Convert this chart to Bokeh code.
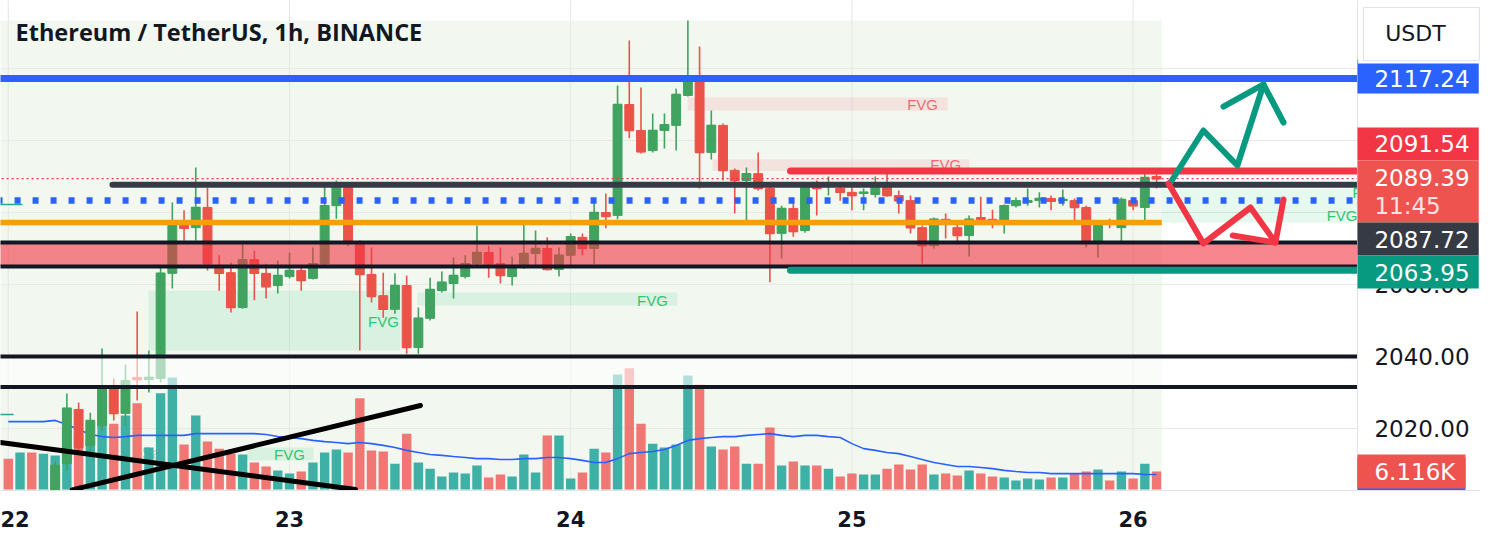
from bokeh.plotting import figure
from bokeh.models import Range1d, FixedTicker
from bokeh.core.properties import value
from bokeh.embed import file_html
from bokeh.resources import INLINE

# ---------------- data ----------------
day_ticks = [0, 24, 48, 72, 96]
day_labels = ["22", "23", "24", "25", "26"]
price_ticks = [2020, 2040, 2060, 2080, 2100, 2120]

opens = [
    1999.0, 1996.0, 2000.0, 1997.0, 2003.0,
    2010.3, 2025.3, 2015.3, 2020.8, 2031.4,
    2024.2, 2034.2, 2033.6, 2033.9, 2063.1,
    2076.4, 2075.8, 2081.4, 2064.7, 2063.3,
    2053.6, 2066.9, 2063.1, 2059.7, 2062.2,
    2063.9, 2061.7, 2065.8, 2081.9, 2087.5,
    2071.7, 2062.8, 2056.9, 2053.1, 2059.7,
    2042.5, 2050.6, 2058.3, 2060.3, 2062.2,
    2065.8, 2068.9, 2065.8, 2062.2, 2064.7,
    2068.6, 2070.0, 2064.2, 2068.1, 2073.1,
    2070.0, 2080.0, 2079.2, 2110.0, 2102.8,
    2097.2, 2102.8, 2104.2, 2112.5, 2116.7,
    2096.7, 2104.2, 2091.7, 2088.9, 2090.8,
    2086.7, 2074.2, 2081.1, 2075.0, 2087.5,
    2087.2, 2086.7, 2085.6, 2085.3, 2085.0,
    2087.5, 2084.7, 2083.3, 2075.8, 2070.8,
    2078.1, 2075.8, 2073.6, 2078.6, 2078.1,
    2076.9, 2081.9, 2082.8, 2083.3, 2083.9,
    2083.3, 2083.3, 2081.4, 2071.7, 2077.2,
    2075.8, 2083.3, 2081.4, 2090.0]
highs = [
    2001.0, 2001.5, 2002.0, 2002.0, 2011.0,
    2029.7, 2027.2, 2024.4, 2042.2, 2033.9,
    2037.8, 2052.5, 2041.7, 2065.3, 2082.8,
    2080.6, 2092.5, 2086.9, 2068.1, 2066.1,
    2071.4, 2069.4, 2065.8, 2066.7, 2068.9,
    2065.3, 2070.3, 2088.1, 2088.9, 2088.3,
    2072.2, 2070.3, 2063.3, 2063.1, 2062.5,
    2053.6, 2061.9, 2063.6, 2067.5, 2068.1,
    2076.4, 2070.8, 2070.3, 2067.8, 2077.8,
    2075.0, 2073.1, 2070.3, 2074.2, 2074.2,
    2082.8, 2085.3, 2115.3, 2127.8, 2114.7,
    2107.5, 2107.5, 2114.4, 2133.3, 2126.1,
    2108.3, 2104.7, 2092.2, 2092.5, 2096.7,
    2087.2, 2081.9, 2083.3, 2088.1, 2088.9,
    2090.0, 2087.5, 2087.5, 2086.7, 2090.0,
    2090.8, 2086.1, 2084.7, 2076.4, 2078.6,
    2079.7, 2077.2, 2079.2, 2084.4, 2080.8,
    2082.2, 2084.2, 2086.7, 2085.6, 2084.7,
    2086.4, 2083.9, 2081.9, 2076.9, 2078.3,
    2084.2, 2084.2, 2090.8, 2090.8]
lows = [
    1994.0, 1994.0, 1995.0, 1995.0, 2001.0,
    2008.3, 2013.9, 2013.3, 2019.4, 2022.2,
    2020.8, 2027.8, 2030.0, 2032.8, 2058.9,
    2072.2, 2072.2, 2063.9, 2058.3, 2052.2,
    2053.3, 2055.6, 2056.1, 2057.5, 2061.7,
    2058.3, 2061.4, 2065.3, 2078.3, 2070.6,
    2041.7, 2055.0, 2050.8, 2051.9, 2040.8,
    2040.8, 2050.0, 2057.8, 2056.1, 2061.7,
    2064.7, 2061.9, 2060.3, 2059.7, 2064.4,
    2064.7, 2063.9, 2062.2, 2065.3, 2068.1,
    2065.6, 2075.6, 2078.1, 2100.6, 2096.4,
    2096.7, 2097.8, 2097.2, 2112.2, 2086.7,
    2094.7, 2088.9, 2079.7, 2077.8, 2086.1,
    2060.6, 2067.2, 2073.3, 2074.4, 2079.2,
    2084.7, 2083.3, 2080.6, 2080.6, 2084.2,
    2084.4, 2079.7, 2074.2, 2065.8, 2070.0,
    2072.8, 2071.4, 2067.8, 2077.8, 2075.6,
    2074.2, 2081.4, 2081.9, 2081.4, 2080.6,
    2081.9, 2077.8, 2070.3, 2067.5, 2075.6,
    2071.7, 2080.6, 2077.8, 2086.7]
closes = [
    1996.0, 2000.0, 1997.0, 2001.0, 2009.7,
    2025.6, 2014.7, 2022.2, 2031.1, 2024.2,
    2033.3, 2033.6, 2034.2, 2063.1, 2076.4,
    2075.6, 2081.4, 2065.8, 2063.1, 2053.6,
    2066.9, 2063.1, 2059.4, 2062.5, 2063.9,
    2061.1, 2065.8, 2081.9, 2087.5, 2072.2,
    2062.8, 2056.7, 2053.1, 2059.7, 2042.5,
    2050.6, 2058.6, 2060.6, 2062.5, 2065.8,
    2068.9, 2065.8, 2062.5, 2064.7, 2068.6,
    2070.0, 2064.2, 2068.1, 2073.3, 2070.0,
    2080.0, 2078.9, 2110.0, 2102.8, 2096.9,
    2102.8, 2104.4, 2112.8, 2116.7, 2096.7,
    2104.2, 2091.7, 2088.9, 2090.8, 2086.7,
    2074.2, 2081.1, 2074.7, 2086.9, 2086.7,
    2088.1, 2085.6, 2084.7, 2085.6, 2087.5,
    2084.7, 2083.3, 2075.8, 2070.8, 2078.1,
    2077.2, 2073.6, 2078.1, 2078.1, 2077.5,
    2081.9, 2083.3, 2083.3, 2083.9, 2083.1,
    2083.6, 2081.4, 2071.7, 2076.4, 2076.9,
    2083.6, 2081.9, 2089.7, 2089.39]
volumes_k = [
    10.5, 12.6, 12.6, 12.2, 11.6, 20.1, 18.4, 16.7, 23.5, 22.4,
    25.2, 29.3, 14.3, 32.7, 38.1, 15.3, 25.2, 16.3, 13.9, 12.2,
    11.9, 9.2, 7.8, 6.5, 5.4, 6.1, 9.2, 12.6, 13.6, 12.6,
    31.0, 13.3, 12.9, 8.8, 19.0, 9.2, 7.1, 4.4, 5.8, 5.4,
    8.2, 4.1, 5.1, 4.4, 11.9, 5.8, 18.4, 18.4, 3.7, 5.8,
    13.9, 12.6, 39.1, 41.2, 22.4, 15.6, 14.3, 15.3, 38.8, 35.7,
    14.6, 13.6, 14.6, 8.8, 8.8, 21.1, 8.2, 9.5, 8.2, 8.2,
    7.1, 4.4, 5.4, 5.1, 5.1, 7.1, 8.5, 6.8, 8.5, 5.1,
    5.4, 4.8, 6.5, 5.4, 4.4, 4.1, 3.1, 3.7, 3.4, 4.1,
    4.1, 5.4, 6.1, 6.8, 3.1, 6.1, 3.7, 8.8, 6.116]
volume_ma_k = [
    23.1, 23.1, 23.1, 23.1, 23.5, 22.1, 20.4, 18.7, 18.0, 17.7,
    18.0, 18.4, 18.4, 18.4, 18.4, 18.4, 19.0, 19.0, 19.0, 19.0,
    19.0, 19.0, 18.7, 18.0, 17.7, 17.3, 16.7, 16.3, 16.0, 15.6,
    16.0, 15.6, 15.0, 14.3, 13.3, 12.6, 11.9, 11.6, 11.2, 10.9,
    10.5, 10.5, 10.2, 10.2, 10.5, 10.5, 10.9, 10.9, 10.5, 9.9,
    9.2, 9.2, 10.5, 12.2, 12.6, 12.9, 13.6, 15.0, 16.7, 17.3,
    17.7, 18.0, 18.0, 18.4, 18.7, 19.0, 18.4, 18.0, 18.4, 18.4,
    18.0, 17.7, 15.6, 13.9, 13.3, 12.6, 12.2, 11.2, 10.2, 9.2,
    8.5, 7.8, 7.8, 7.5, 7.1, 6.5, 6.1, 5.8, 5.8, 5.4,
    5.4, 5.4, 5.4, 5.4, 5.4, 5.4, 5.4, 5.1, 5.1]

# drawn levels (price)
blue_level = 2117.24
red_level = 2091.54
last_price = 2089.39
dark_level = 2087.72
dotted_level = 2083.33
orange_level = 2077.22
band_top, band_bottom = 2071.67, 2065.0
green_level = 2063.95
lower_lines = [2040.0, 2031.5]

# FVG zones: (start hour, end hour, low price, high price)
fvg_bear = [(57.97, 80.16, 2108.33, 2111.94), (60.1, 82.04, 2091.5, 2094.7)]
fvg_bull = [(11.97, 33.47, 2041.67, 2058.33), (34.93, 57.11, 2054.17, 2057.78),
            (20.4, 26.05, 2011.11, 2014.72), (98.45, 116.0, 2077.2, 2086.67)]

# drawings (hour, price)
bull_path_h = [99.19, 102.0, 104.9, 107.13]
bull_path_p = [2088.33, 2102.78, 2093.06, 2115.56]
bull_head_h = [103.71, 107.13, 108.84]
bull_head_p = [2109.44, 2115.56, 2105.0]
bear_path_h = [99.02, 102.0, 106.02, 108.15]
bear_path_p = [2088.06, 2071.39, 2081.39, 2071.67]
bear_head_h = [104.5, 108.15, 108.84]
bear_head_p = [2073.61, 2071.67, 2083.61]
cross_a_h, cross_a_p = [-0.67, 29.63], [2016.11, 2003.06]
cross_b_h, cross_b_p = [5.45, 35.18], [2002.97, 2026.39]

# price-scale tags
tag_texts = ["2117.24", "2091.54", "2089.39", "2087.72", "2063.95"]
tag_colors = ["#2962ff", "#f23645", "#ef5350", "#363a45", "#089981"]
tag_tops = [2122.5, 2103.6, 2094.44, 2077.22, 2068.06]
tag_bottoms = [2113.06, 2094.44, 2077.22, 2068.06, 2058.89]
tag_text_y = [2117.3, 2099.03, 2089.72, 2072.64, 2063.33]
countdown_text = "11:45"
volume_tag_text = "6.116K"
ma_tag_text = "5.124K"

# ---------------- figure ----------------
X0, X1 = -0.666, 125.65          # full canvas width
AXIS_X = 115.15                  # price-scale border
LABEL_X = 116.6
p = figure(frame_width=1480, frame_height=490,
           x_range=Range1d(X0, X1), y_range=Range1d(2002.78, 2138.89),
           output_backend="svg", toolbar_location=None, y_axis_location=None,
           min_border_left=0, min_border_top=0, min_border_right=0, min_border_bottom=48,
           background_fill_color="white", border_fill_color="white", outline_line_color=None)
p.extra_y_ranges = {"vol": Range1d(-0.34, 166.33)}
p.grid.visible = False

NUMF = value("DejaVu Sans")
xa = p.xaxis[0]
xa.ticker = FixedTicker(ticks=day_ticks)
xa.major_label_overrides = {t: l for t, l in zip(day_ticks, day_labels)}
xa.major_label_text_font = "DejaVu Sans"
xa.major_label_text_font_style = "bold"
xa.major_label_text_font_size = "21px"
xa.major_label_text_color = "#131722"
xa.axis_line_color = "#e0e3eb"
xa.major_tick_line_color = None
xa.minor_tick_line_color = None
xa.major_tick_out = 0
xa.major_label_standoff = 20

hours = list(range(len(opens)))
PANEL_END = 98.45

# background panel
p.quad(left=[-1], right=[PANEL_END], bottom=[1990], top=[2133.33], fill_color="#f2f7f0", line_color=None)
# grid
p.segment(x0=day_ticks, x1=day_ticks, y0=[1990] * 5, y1=[2140] * 5, line_color="#e4e7e4", line_width=1)
p.segment(x0=[-1] * 6, x1=[AXIS_X] * 6, y0=price_ticks, y1=price_ticks, line_color="#e6e9e6", line_width=1)

# FVG boxes
p.quad(left=[z[0] for z in fvg_bear], right=[z[1] for z in fvg_bear],
       bottom=[z[2] for z in fvg_bear], top=[z[3] for z in fvg_bear],
       fill_color="#f23645", fill_alpha=0.1, line_color=None)
p.quad(left=[z[0] for z in fvg_bull], right=[z[1] for z in fvg_bull],
       bottom=[z[2] for z in fvg_bull], top=[z[3] for z in fvg_bull],
       fill_color="#00c060", fill_alpha=0.1, line_color=None)

p.text(x=[12.23], y=[2013.06], text=["Sa"], text_font=value("Liberation Sans"),
       text_font_size="16px", text_color="#b9bdb9", text_alpha=0.7,
       text_align="center", text_baseline="middle")

# volume
up = [c >= o for o, c in zip(opens, closes)]
vcol = ["#26a69a" if u else "#ef5350" for u in up]
valpha = [0.88 if u else 0.78 for u in up]
p.vbar(x=hours, top=volumes_k, bottom=0, width=0.8, fill_color=vcol, fill_alpha=valpha,
       line_color=None, y_range_name="vol")
p.line(hours, volume_ma_k, line_color="#2962ff", line_width=1.6, y_range_name="vol")

# candles
ccol = ["#40a35f" if u else "#eb5349" for u in up]
p.segment(x0=hours, x1=hours, y0=lows, y1=highs, line_color=ccol, line_width=1.6)
p.vbar(x=hours, top=[max(o, c) for o, c in zip(opens, closes)],
       bottom=[min(o, c) for o, c in zip(opens, closes)], width=0.76,
       fill_color=ccol, line_color=ccol, line_width=1)
p.segment(x0=[h - 0.38 for h in hours], x1=[h + 0.38 for h in hours], y0=closes, y1=closes,
          line_color=ccol, line_width=1.5)

# translucent bands
p.quad(left=[-1], right=[AXIS_X], bottom=[lower_lines[1]], top=[lower_lines[0]],
       fill_color="white", fill_alpha=0.6, line_color=None)
p.quad(left=[-1], right=[AXIS_X], bottom=[band_bottom], top=[band_top],
       fill_color="#f23645", fill_alpha=0.6, line_color=None)

# FVG texts
FV = value("Liberation Sans")
p.text(x=[78.03, 80.0], y=[2110.0, 2093.3], text=["FVG", "FVG"], text_font=FV, text_font_size="15px",
       text_color="#f23645", text_alpha=0.72, text_align="center", text_baseline="middle")
p.text(x=[32.02, 54.98, 24.0], y=[2049.72, 2055.69, 2012.78], text=["FVG"] * 3, text_font=FV,
       text_font_size="15px", text_color="#2fc66f", text_align="center", text_baseline="middle")
p.text(x=[AXIS_X], y=[2079.17], text=["FVG"], text_font=FV, text_font_size="15px",
       text_color="#2fc66f", text_align="right", text_baseline="middle")
p.text(x=[114.72], y=[2085.56], text=["FVG"], text_font=FV, text_font_size="15px",
       text_color="#2fc66f", text_align="left", text_baseline="middle")

# horizontal lines
p.segment(x0=[-1] * 4, x1=[AXIS_X] * 4, y0=[band_top, band_bottom] + lower_lines,
          y1=[band_top, band_bottom] + lower_lines, line_color="#131722", line_width=4)
p.line([-1, PANEL_END], [orange_level] * 2, line_color="#f89e0b", line_width=5.5)
p.line([-1, AXIS_X], [dotted_level] * 2, line_color="#2962ff", line_width=6.5, line_dash="6 12",
       line_cap="butt")
p.line([8.89, AXIS_X], [dark_level] * 2, line_color="#363a45", line_width=6, line_cap="round")
p.line([-1, AXIS_X], [last_price] * 2, line_color="#f23645", line_width=1.3, line_dash="2 3")
p.line([-1, AXIS_X], [blue_level] * 2, line_color="#2962ff", line_width=7)
p.line([66.76, AXIS_X], [red_level] * 2, line_color="#f23645", line_width=7, line_cap="round")
p.line([66.76, AXIS_X], [green_level] * 2, line_color="#089981", line_width=7, line_cap="round")
p.line([-1, 1.2], [2082.2] * 2, line_color="#26a69a", line_width=1.5)
p.line([-1, 0.45], [2023.9] * 2, line_color="#26a69a", line_width=1.5)

# cross lines
p.line(cross_a_h, cross_a_p, line_color="black", line_width=5, line_cap="round")
p.line(cross_b_h, cross_b_p, line_color="black", line_width=5, line_cap="round")

# scenario arrows
for hh, pp, col in [(bull_path_h, bull_path_p, "#089981"), (bull_head_h, bull_head_p, "#089981"),
                    (bear_path_h, bear_path_p, "#f23645"), (bear_head_h, bear_head_p, "#f23645")]:
    p.line(hh, pp, line_color=col, line_width=6, line_cap="round", line_join="round")

# title
p.text(x=[0.62], y=[2130.14], text=["Ethereum / TetherUS, 1h, BINANCE"],
       text_font=value("Open Sans"), text_font_style="bold", text_font_size="23.5px",
       text_color="#131722", text_align="left", text_baseline="middle")

# ---------------- price scale ----------------
p.quad(left=[AXIS_X], right=[X1 + 1], bottom=[1990], top=[2140], fill_color="white", line_color=None)
p.segment(x0=[AXIS_X], x1=[AXIS_X], y0=[1990], y1=[2140], line_color="#e0e3eb", line_width=1)
p.text(x=[LABEL_X] * len(price_ticks), y=price_ticks, text=["%.2f" % t for t in price_ticks],
       text_font=NUMF, text_font_size="23px", text_color="#131722",
       text_align="left", text_baseline="middle")

# MA / volume tags
p.quad(left=[AXIS_X], right=[124.37], bottom=[-0.68], top=[10.88], fill_color="#2962ff",
       line_color=None, y_range_name="vol")
p.text(x=[LABEL_X], y=[volume_ma_k[-1]], text=[ma_tag_text], text_font=NUMF, text_font_size="23px",
       text_color="white", text_align="left", text_baseline="middle", y_range_name="vol")
p.quad(left=[AXIS_X], right=[124.37], bottom=[0.34], top=[11.9], fill_color="#ef5350",
       line_color=None, y_range_name="vol")
p.text(x=[LABEL_X], y=[volumes_k[-1]], text=[volume_tag_text], text_font=NUMF, text_font_size="23px",
       text_color="white", text_align="left", text_baseline="middle", y_range_name="vol")

# price tags
p.quad(left=[AXIS_X] * 5, right=[125.5] * 5, bottom=tag_bottoms, top=tag_tops,
       fill_color=tag_colors, line_color=None)
p.text(x=[LABEL_X] * 5, y=tag_text_y, text=tag_texts, text_font=NUMF, text_font_size="23px",
       text_color="white", text_align="left", text_baseline="middle")
p.text(x=[LABEL_X], y=[2081.94], text=[countdown_text], text_font=NUMF, text_font_size="23px",
       text_color="#fde2e2", text_align="left", text_baseline="middle")

# currency button (white surround, then bordered box)
p.quad(left=[AXIS_X + 0.05], right=[X1 + 1], bottom=[2121.4], top=[2140], fill_color="white",
       line_color=None)
p.quad(left=[115.66], right=[125.56], bottom=[2122.22], top=[2136.95], fill_color="white",
       line_color="#e0e3eb", line_width=1.2)
p.text(x=[120.1], y=[2129.72], text=["USDT"], text_font=NUMF, text_font_size="22px",
       text_color="#131722", text_align="center", text_baseline="middle")

open("out.html", "w").write(file_html(p, INLINE))
